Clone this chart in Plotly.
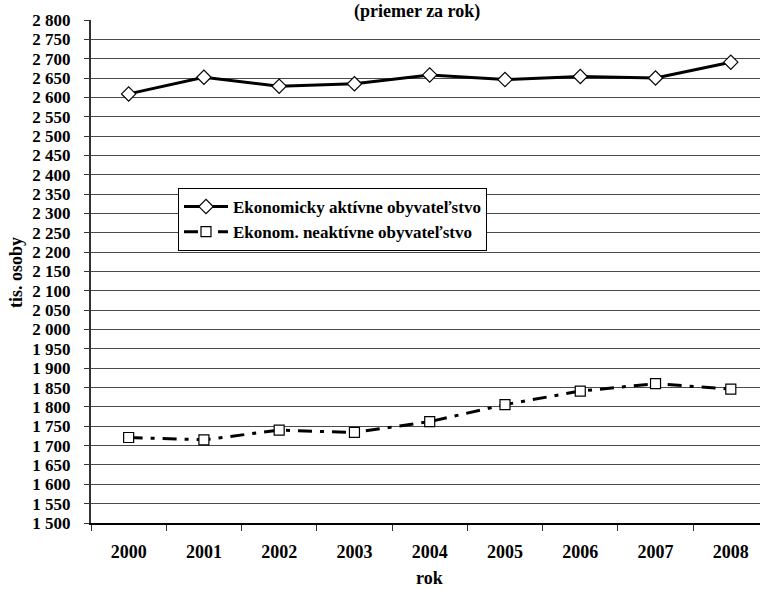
import plotly.graph_objects as go

years = ["2000", "2001", "2002", "2003", "2004", "2005", "2006", "2007", "2008"]
aktivne = [2609, 2652, 2629, 2635, 2658, 2646, 2654, 2650, 2691]
neaktivne = [1721, 1715, 1740, 1734, 1762, 1806, 1841, 1860, 1846]
y_ticks = list(range(1500, 2801, 50))

FONT = "Liberation Serif, serif"

fig = go.Figure()
fig.add_trace(go.Scatter(
    x=years, y=aktivne, mode="lines+markers",
    name="Ekonomicky aktívne obyvateľstvo",
    line=dict(color="black", width=3),
    marker=dict(symbol="diamond", size=11, color="white",
                line=dict(color="black", width=1.2)),
))
fig.add_trace(go.Scatter(
    x=years, y=neaktivne, mode="lines+markers",
    name="Ekonom. neaktívne obyvateľstvo",
    line=dict(color="black", width=3, dash="14px,8px,4px,8px"),
    marker=dict(symbol="square", size=10, color="white",
                line=dict(color="black", width=1.2)),
))

plot_w = 760 - 91
plot_h = 590 - 20 - 67

fig.update_layout(
    width=760, height=590,
    margin=dict(l=91, r=0, t=20, b=67, autoexpand=False),
    paper_bgcolor="white", plot_bgcolor="white",
    separators=", ",
    font=dict(family=FONT, color="black", size=15, weight="bold"),
    showlegend=True,
    legend=dict(
        x=(178 - 91) / plot_w, y=(523 - 188) / plot_h,
        xanchor="left", yanchor="top",
        bgcolor="white", bordercolor="black", borderwidth=1,
        font=dict(family=FONT, size=17, color="black", weight="bold"),
        tracegroupgap=0, itemwidth=44,
    ),
    annotations=[
        dict(text="(priemer za rok)", x=(417 - 91) / plot_w, y=1 + (20 - 11) / plot_h,
             xref="paper", yref="paper",
             xanchor="center", yanchor="middle", showarrow=False,
             font=dict(family=FONT, size=18, color="black", weight="bold")),
        dict(text="rok", x=(429 - 91) / plot_w, y=-(578 - 523) / plot_h,
             xref="paper", yref="paper",
             showarrow=False, xanchor="center", yanchor="middle",
             font=dict(family=FONT, size=18, color="black", weight="bold")),
        dict(text="tis. osoby", x=-(91 - 16) / plot_w, y=(523 - 273) / plot_h,
             xref="paper", yref="paper",
             showarrow=False, textangle=-90, xanchor="center", yanchor="middle",
             font=dict(family=FONT, size=18, color="black", weight="bold")),
    ],
)

fig.update_xaxes(
    type="category", range=[-0.5, 8.388], automargin=False,
    tickson="boundaries", ticks="outside", ticklen=6, tickcolor="#333",
    showgrid=False, showline=True, linecolor="black", linewidth=1.5,
    tickfont=dict(family=FONT, size=18, weight="bold"),
    ticklabelstandoff=12,
)
fig.update_yaxes(
    range=[1500, 2800], tickvals=y_ticks, tickformat=",d", automargin=False,
    ticks="outside", ticklen=5, tickcolor="#333",
    showgrid=True, gridcolor="#4a4a4a", gridwidth=1,
    showline=True, linecolor="#333", linewidth=2,
    zeroline=False,
    tickfont=dict(family=FONT, size=17, weight="bold"),
    ticklabelstandoff=10,
)

fig.write_html("out.html", config={"displayModeBar": False},
               post_script="document.body.style.margin='0';document.body.style.padding='0';")
